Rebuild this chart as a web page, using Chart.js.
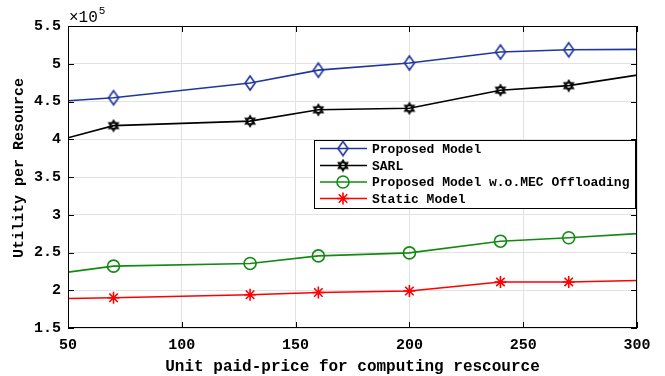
<!DOCTYPE html>
<html>
<head>
<meta charset="utf-8">
<script src="https://cdn.jsdelivr.net/npm/chart.js@4/dist/chart.umd.min.js"></script>
<style>
  html, body { margin: 0; padding: 0; background: #fff; }
  #wrap { width: 665px; height: 376px; }
</style>
</head>
<body>
<div id="wrap"><canvas id="c" width="665" height="376"></canvas></div>
<script>
// Unit paid-price for computing resource (x) and utility per resource (×10^5)
const prices      = [50, 70, 130, 160, 200, 240, 270, 300];
const proposed    = [4.51, 4.55, 4.745, 4.915, 5.01, 5.155, 5.185, 5.19];
const sarl        = [4.02, 4.18, 4.24, 4.39, 4.41, 4.65, 4.71, 4.85];
const noOffload   = [2.24, 2.32, 2.355, 2.455, 2.495, 2.65, 2.695, 2.75];
const staticModel = [1.89, 1.90, 1.94, 1.97, 1.99, 2.11, 2.11, 2.13];

const xTicks = [50, 100, 150, 200, 250, 300];
const yTicks = [1.5, 2, 2.5, 3, 3.5, 4, 4.5, 5, 5.5];
const seriesNames = ['Proposed Model', 'SARL', 'Proposed Model w.o.MEC Offloading', 'Static Model'];
const xTitle = 'Unit paid-price for computing rescource';
const yTitle = 'Utility per Resource';

const MONO = '"Liberation Mono", "DejaVu Sans Mono", monospace';
const BLUE = '#1f36a0', BLACK = '#000000', GREEN = '#128a12', RED = '#ff0000';

// custom marker glyphs (open outlines)
function diamondMarker() {
  const c = document.createElement('canvas');
  c.width = 14; c.height = 18;
  const g = c.getContext('2d');
  g.strokeStyle = BLUE; g.lineWidth = 1.6;
  g.beginPath();
  g.moveTo(7, 2); g.lineTo(12, 9); g.lineTo(7, 16); g.lineTo(2, 9); g.closePath();
  g.stroke();
  return c;
}
function hexagramMarker() {
  const c = document.createElement('canvas');
  c.width = 14; c.height = 14;
  const g = c.getContext('2d');
  const cx = 7, cy = 7, r = 5.3;
  g.strokeStyle = BLACK; g.lineWidth = 1.5;
  [-Math.PI / 2, Math.PI / 2].forEach(a0 => {
    g.beginPath();
    for (let k = 0; k < 3; k++) {
      const a = a0 + k * 2 * Math.PI / 3;
      const px = cx + r * Math.cos(a), py = cy + r * Math.sin(a);
      if (k === 0) g.moveTo(px, py); else g.lineTo(px, py);
    }
    g.closePath();
    g.stroke();
  });
  return c;
}
const diamond = diamondMarker();
const hexagram = hexagramMarker();

// markers only on the interior sample points
const markerRadius = prices.map((p, i) => (i === 0 || i === prices.length - 1) ? 0 : 6);
const toXY = arr => arr.map((v, i) => ({ x: prices[i], y: v }));

const styles = [
  { color: BLUE,  pointStyle: diamond },
  { color: BLACK, pointStyle: hexagram },
  { color: GREEN, pointStyle: 'circle' },
  { color: RED,   pointStyle: 'star' }
];
const seriesData = [proposed, sarl, noOffload, staticModel];

const datasets = seriesData.map((arr, k) => ({
  label: seriesNames[k],
  data: toXY(arr),
  borderColor: styles[k].color,
  backgroundColor: 'rgba(0,0,0,0)',
  borderWidth: 1.6,
  pointStyle: styles[k].pointStyle,
  pointRadius: markerRadius,
  pointBorderWidth: 1.6,
  pointBorderColor: styles[k].color,
  pointBackgroundColor: 'rgba(0,0,0,0)',
  tension: 0
}));

const decor = {
  id: 'decor',
  afterDatasetsDraw(chart) {
    const { ctx, chartArea: a, scales } = chart;
    ctx.save();
    // axes box
    ctx.strokeStyle = '#000'; ctx.lineWidth = 1;
    ctx.strokeRect(a.left + 0.5, a.top + 0.5, a.right - a.left - 1, a.bottom - a.top - 1);
    // inward tick marks on all four sides
    const tl = 6;
    ctx.beginPath();
    xTicks.forEach(v => {
      const x = Math.round(scales.x.getPixelForValue(v)) + 0.5;
      ctx.moveTo(x, a.bottom); ctx.lineTo(x, a.bottom - tl);
      ctx.moveTo(x, a.top); ctx.lineTo(x, a.top + tl);
    });
    yTicks.forEach(v => {
      const y = Math.round(scales.y.getPixelForValue(v)) + 0.5;
      ctx.moveTo(a.left, y); ctx.lineTo(a.left + tl, y);
      ctx.moveTo(a.right, y); ctx.lineTo(a.right - tl, y);
    });
    ctx.stroke();

    // exponent label
    ctx.fillStyle = '#000';
    ctx.textBaseline = 'alphabetic';
    ctx.textAlign = 'left';
    ctx.font = '16px ' + MONO;
    ctx.fillText('\u00d710', a.left + 1, 22);
    const w = ctx.measureText('\u00d710').width;
    ctx.font = '11px ' + MONO;
    ctx.fillText('5', a.left + 2 + w, 14);

    // axis titles
    ctx.textAlign = 'center';
    ctx.textBaseline = 'middle';
    ctx.font = 'bold 16px ' + MONO;
    ctx.fillText(xTitle, (a.left + a.right) / 2, 367);
    ctx.font = 'bold 15px ' + MONO;
    ctx.save();
    ctx.translate(19, 168);
    ctx.rotate(-Math.PI / 2);
    ctx.fillText(yTitle, 0, 0);
    ctx.restore();

    // legend
    const lx = 314, ly = 140, lw = 321, lh = 68;
    ctx.fillStyle = '#fff';
    ctx.fillRect(lx, ly, lw, lh);
    ctx.strokeStyle = '#000'; ctx.lineWidth = 1;
    ctx.strokeRect(lx + 0.5, ly + 0.5, lw, lh);
    const rows = [148.5, 165.5, 182, 198.5];
    ctx.font = 'bold 13px ' + MONO;
    ctx.textAlign = 'left';
    ctx.textBaseline = 'middle';
    seriesNames.forEach((name, k) => {
      const y = rows[k];
      const st = styles[k];
      ctx.strokeStyle = st.color; ctx.lineWidth = 1.6;
      ctx.beginPath(); ctx.moveTo(320, y); ctx.lineTo(367, y); ctx.stroke();
      ctx.fillStyle = 'rgba(0,0,0,0)';
      ctx.strokeStyle = st.color;
      ctx.lineWidth = 1.6;
      Chart.helpers.drawPoint(ctx, {
        pointStyle: st.pointStyle, radius: 6, borderWidth: 1.6, rotation: 0
      }, 343, y);
      ctx.fillStyle = '#000';
      ctx.fillText(name, 372, y + 1);
    });
    ctx.restore();
  }
};

new Chart(document.getElementById('c'), {
  type: 'line',
  data: { datasets },
  options: {
    responsive: false,
    animation: false,
    devicePixelRatio: 1,
    layout: { padding: { top: 26, right: 28, left: 0, bottom: 0 } },
    plugins: { legend: { display: false }, tooltip: { enabled: false } },
    scales: {
      x: {
        type: 'linear', min: 50, max: 300,
        afterBuildTicks: s => { s.ticks = xTicks.map(v => ({ value: v })); },
        afterFit: s => { s.height = 48; },
        grid: { color: '#e2e2e2', drawTicks: false, lineWidth: 1 },
        border: { display: false },
        ticks: { color: '#000', padding: 8, font: { family: MONO, size: 15, weight: 'bold' }, maxRotation: 0,
                 callback: v => String(v) }
      },
      y: {
        type: 'linear', min: 1.5, max: 5.5,
        afterBuildTicks: s => { s.ticks = yTicks.map(v => ({ value: v })); },
        afterFit: s => { s.width = 68; },
        grid: { color: '#e2e2e2', drawTicks: false, lineWidth: 1 },
        border: { display: false },
        ticks: { color: '#000', padding: 7, font: { family: MONO, size: 15, weight: 'bold' },
                 callback: v => String(v) }
      }
    }
  },
  plugins: [decor]
});
</script>
</body>
</html>
